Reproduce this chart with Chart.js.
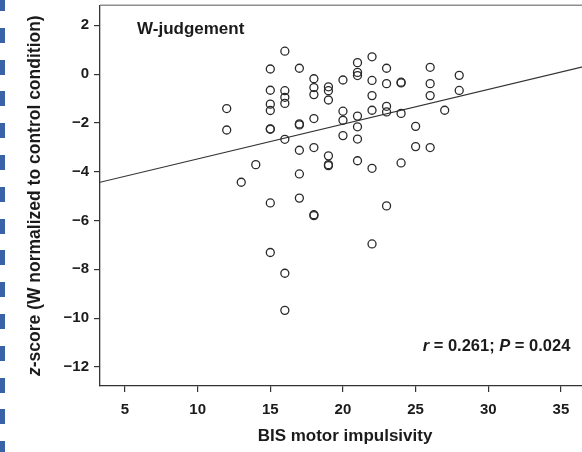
<!DOCTYPE html>
<html>
<head>
<meta charset="utf-8">
<script src="https://cdn.jsdelivr.net/npm/chart.js@4"></script>
<style>
  html, body { margin: 0; padding: 0; background: #fff; overflow: hidden; }
  #wrap { position: relative; width: 582px; height: 452px; overflow: hidden; }
  #edge {
    position: absolute; left: 0; top: 0; width: 5px; height: 452px; z-index: 2;
    background: repeating-linear-gradient(to bottom, #3a62a6 0 15px, transparent 15px 31.8px);
    background-position: 0 -4px;
  }
  canvas { position: absolute; left: 0; top: 0; }
</style>
</head>
<body>
<div id="wrap">
  <canvas id="c" width="600" height="452"></canvas>
  <div id="edge"></div>
</div>
<script>
// BIS motor impulsivity score of each participant
const impulsivity = [
  12, 12,
  13,
  14,
  15, 15, 15, 15, 15, 15, 15, 15,
  16, 16, 16, 16, 16, 16, 16,
  17, 17, 17, 17, 17, 17,
  18, 18, 18, 18, 18, 18, 18,
  19, 19, 19, 19, 19, 19,
  20, 20, 20, 20,
  21, 21, 21, 21, 21, 21, 21,
  22, 22, 22, 22, 22, 22,
  23, 23, 23, 23, 23,
  24, 24, 24, 24,
  25, 25,
  26, 26, 26, 26,
  27,
  28, 28
];
// W-judgement z-score (normalized to control condition), same order
const zScores = [
  -1.41, -2.29,
  -4.43,
  -3.71,
  0.21, -0.66, -1.23, -1.49, -2.24, -2.26, -5.28, -7.31,
  0.94, -0.68, -0.95, -1.20, -2.67, -8.16, -9.68,
  0.24, -2.04, -2.08, -3.12, -4.09, -5.08,
  -0.19, -0.55, -0.84, -1.82, -3.01, -5.76, -5.80,
  -0.52, -0.68, -1.06, -3.35, -3.71, -3.75,
  -0.24, -1.52, -1.89, -2.52,
  0.47, 0.07, -0.06, -1.72, -2.16, -2.66, -3.55,
  0.71, -0.26, -0.88, -1.48, -3.86, -6.96,
  0.24, -0.39, -1.32, -1.55, -5.40,
  -0.33, -0.36, -1.61, -3.64,
  -2.14, -2.97,
  0.28, -0.39, -0.88, -3.01,
  -1.48,
  -0.05, -0.67
];
// Least-squares fit line coefficients
const fitSlope = 0.1425;
const fitIntercept = -4.90;

const xTickValues = [5, 10, 15, 20, 25, 30, 35];
const yTickValues = [-12, -10, -8, -6, -4, -2, 0, 2];
const xRange = [3.28, 37];
const yRange = [-12.78, 2.82];

const panelLabel = 'W-judgement';
const xTitle = 'BIS motor impulsivity';
const yTitleParts = [['z', true], ['-score (W normalized to control condition)', false]];
const statParts = [['r', true], [' = 0.261; ', false], ['P', true], [' = 0.024', false]];

const FONT = '"Liberation Sans", Arial, Helvetica, sans-serif';
const INK = '#1b1b1b';

const points = impulsivity.map((x, i) => ({ x: x, y: zScores[i] }));
const fitLine = xRange.map(x => ({ x: x, y: fitIntercept + fitSlope * x }));

function drawRich(ctx, parts, x, y, align, size) {
  const fontFor = it => (it ? 'italic ' : '') + 'bold ' + size + 'px ' + FONT;
  let total = 0;
  const widths = parts.map(([t, it]) => { ctx.font = fontFor(it); const w = ctx.measureText(t).width; total += w; return w; });
  let cx = align === 'center' ? x - total / 2 : align === 'right' ? x - total : x;
  ctx.textAlign = 'left';
  ctx.textBaseline = 'middle';
  parts.forEach(([t, it], i) => { ctx.font = fontFor(it); ctx.fillText(t, cx, y); cx += widths[i]; });
}

const decorations = {
  id: 'decorations',
  afterDraw(chart) {
    const { ctx, chartArea: a, scales } = chart;
    ctx.save();
    // top frame line
    ctx.strokeStyle = '#8e8e8e';
    ctx.lineWidth = 1.5;
    ctx.beginPath();
    ctx.moveTo(a.left, a.top);
    ctx.lineTo(a.right, a.top);
    ctx.stroke();

    ctx.fillStyle = INK;
    // y-axis title with italic z
    ctx.save();
    ctx.translate(35, (a.top + a.bottom) / 2);
    ctx.rotate(-Math.PI / 2);
    drawRich(ctx, yTitleParts, 0, 0, 'center', 17.5);
    ctx.restore();

    // panel label
    drawRich(ctx, [[panelLabel, false]], scales.x.getPixelForValue(5.83), scales.y.getPixelForValue(1.85), 'left', 17);
    // correlation statistics
    drawRich(ctx, statParts, scales.x.getPixelForValue(35.65), scales.y.getPixelForValue(-11.14), 'right', 16.5);
    ctx.restore();
  }
};

new Chart(document.getElementById('c'), {
  type: 'scatter',
  data: {
    datasets: [
      {
        data: points,
        pointRadius: 4,
        pointHoverRadius: 4,
        pointBorderWidth: 1.3,
        borderColor: '#2a2a2a',
        backgroundColor: 'rgba(0,0,0,0)',
        pointStyle: 'circle'
      },
      {
        type: 'line',
        data: fitLine,
        showLine: true,
        pointRadius: 0,
        borderColor: '#333',
        borderWidth: 1.2,
        fill: false
      }
    ]
  },
  options: {
    responsive: false,
    devicePixelRatio: 1,
    animation: false,
    events: [],
    layout: { padding: { left: 0, top: 3, right: 10, bottom: 0 } },
    plugins: { legend: { display: false }, tooltip: { enabled: false } },
    scales: {
      x: {
        type: 'linear',
        min: xRange[0],
        max: xRange[1],
        afterBuildTicks: s => { s.ticks = xTickValues.map(v => ({ value: v })); },
        afterFit: s => { s.height = 66; s.paddingLeft = 0; s.paddingRight = 0; },
        grid: { drawOnChartArea: false, drawTicks: true, tickLength: 6, color: '#333', lineWidth: 1.2 },
        border: { display: true, color: '#333', width: 1.3 },
        ticks: { color: INK, font: { family: FONT, size: 15, weight: 'bold' }, padding: 9, maxRotation: 0, autoSkip: false },
        title: { display: true, text: xTitle, color: INK, font: { family: FONT, size: 17, weight: 'bold' }, padding: { top: 0, bottom: 5 } }
      },
      y: {
        type: 'linear',
        min: yRange[0],
        max: yRange[1],
        afterBuildTicks: s => { s.ticks = yTickValues.map(v => ({ value: v })); },
        afterFit: s => { s.width = 100; s.paddingTop = 0; s.paddingBottom = 0; },
        grid: { drawOnChartArea: false, drawTicks: true, tickLength: 6, color: '#333', lineWidth: 1.2 },
        border: { display: true, color: '#333', width: 1.3 },
        ticks: {
          color: INK, font: { family: FONT, size: 15, weight: 'bold' }, padding: 5, autoSkip: false,
          callback: v => String(v).replace('-', '\u2212')
        }
      }
    }
  },
  plugins: [decorations]
});
</script>
</body>
</html>
